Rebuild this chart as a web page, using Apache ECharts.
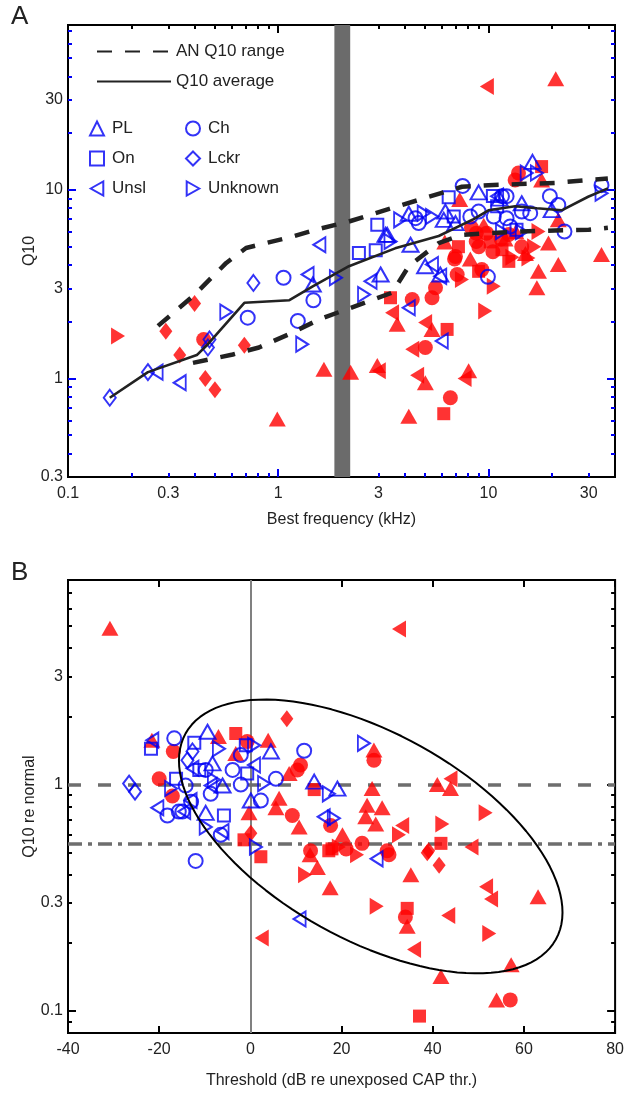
<!DOCTYPE html>
<html><head><meta charset="utf-8">
<script src="https://cdn.jsdelivr.net/npm/echarts@6/dist/echarts.min.js"></script>
<style>html,body{margin:0;padding:0;background:#fff}#c{width:627px;height:1096px}</style>
</head><body><div id="c"></div>
<script>
// ---------- Tick labels / ticks ----------
const A_X_LABELS = [0.1, 0.3, 1, 3, 10, 30];
const A_X_MAJOR = [1, 10];
const A_X_MINOR = [0.2, 0.3, 0.4, 0.5, 0.6, 0.7, 0.8, 0.9, 2, 3, 4, 5, 6, 7, 8, 9, 20, 30];
const A_Y_LABELS = [0.3, 1, 3, 10, 30];
const A_Y_MAJOR = [1, 10];
const A_Y_MINOR = [0.4, 0.5, 0.6, 0.7, 0.8, 0.9, 2, 3, 4, 5, 6, 7, 8, 9, 20, 30, 40, 50, 60, 70];
const B_X_LABELS = [-40, -20, 0, 20, 40, 60, 80];
const B_Y_LABELS = [0.1, 0.3, 1, 3];
const B_Y_MAJOR = [0.1, 1];
const B_Y_MINOR = [0.09, 0.2, 0.3, 0.4, 0.5, 0.6, 0.7, 0.8, 0.9, 2, 3, 4, 5, 6, 7];

// ---------- Panel A lines [kHz, Q10] ----------
const AN_UPPER = [[0.268,1.90],[0.393,2.73],[0.566,4.10],[0.703,4.92],[1.17,5.66],[1.51,6.15],[2.17,6.80],[3.89,8.33],[7.48,10.4],[10,10.6],[20.7,10.9],[37,11.5]];
const AN_LOWER = [[0.393,1.21],[0.608,1.34],[0.81,1.46],[1.17,1.75],[1.57,2.06],[3.48,2.85],[4.18,3.94],[5.8,5.23],[7.48,5.78],[10,5.9],[14.4,6.02],[20.7,6.1],[30,6.15],[37,6.3]];
const Q10_AVG = [[0.158,0.79],[0.24,1.08],[0.41,1.33],[0.455,1.49],[0.69,2.52],[1.13,2.60],[1.46,3.08],[2.17,3.94],[3.6,4.9],[5.8,5.7],[8.5,7.0],[10,7.8],[13.4,8.2],[17,8.0],[22.3,7.8],[29.8,9.2],[37,10.2]];
const NOISE_BAND = [1.85, 2.2];

// ---------- Panel A, unexposed (blue, open) [kHz, Q10] ----------
const A_PL = [[1.46,3.15],[3.07,3.56],[3.24,5.78],[4.26,5.12],[5.0,3.94],[5.9,3.56],[8.98,9.7],[6.24,7.68],[6.13,6.94],[4.18,7.48],[3.30,5.78],[6.97,6.67],[14.4,8.5],[20,7.82],[16.2,14.1],[11.3,9.0]];
const A_On = [[2.42,4.63],[2.91,4.78],[6.47,9.16],[6.84,7.23],[2.96,6.53],[13.6,6.15],[10.5,9.3],[11.0,8.2]];
const A_Unsl = [[0.264,1.08],[0.340,0.95],[1.38,3.56],[1.57,5.12],[2.75,3.28],[4.18,2.37],[5.39,4.02],[5.9,3.48],[11,9.27],[6.0,1.58]];
const A_Ch = [[0.716,2.10],[1.06,3.42],[1.24,2.02],[1.47,2.60],[4.5,7.08],[4.66,6.67],[7.54,10.5],[8.2,7.23],[8.98,7.68],[10.6,7.23],[11.6,9.27],[12.2,9.27],[12.2,7.08],[14.4,7.68],[15.8,7.53],[12.7,6.4],[19.6,9.27],[21.5,8.32],[23,6.02],[9.94,3.46],[34.5,10.6]];
const A_Lckr = [[0.158,0.79],[0.240,1.08],[0.471,1.61],[0.463,1.46],[0.762,3.21]];
const A_Unknown = [[0.566,2.25],[1.30,1.52],[1.88,3.42],[2.56,2.79],[3.42,5.33],[3.80,6.94],[4.92,7.53],[5.39,7.23],[11.6,6.02],[14.4,6.0],[15.2,12.3],[17,12.3],[34.5,9.6]];

// ---------- Panel A, exposed (red, filled) ----------
const A_PL_X = [[0.99,0.61],[1.65,1.12],[2.21,1.08],[2.96,1.17],[4.18,0.63],[5.01,0.95],[8.05,1.10],[5.39,1.82],[3.68,1.94],[17,3.03],[17.3,3.70],[21.5,4.02],[34.5,4.54],[8.2,4.3],[19.3,5.23],[20.9,38.9],[17.9,11.3],[7.3,8.9],[21.5,6.94],[12,5.5],[15,4.6],[9.5,6.5],[13.5,6.0],[6.2,5.3]];
const A_On_X = [[6.13,0.65],[6.36,1.82],[3.42,2.68],[8.98,3.70],[11.6,4.82],[12.5,4.18],[17.9,13.3],[7.2,5.0],[10.2,5.3]];
const A_Unsl_X = [[3.01,1.10],[4.58,1.04],[4.34,1.43],[5.0,1.98],[3.48,2.23],[9.83,35.4],[7.7,1.0]];
const A_Ch_X = [[0.442,1.61],[6.59,0.79],[5.01,1.46],[4.34,2.62],[5.39,2.68],[5.6,3.03],[6.9,4.3],[9.3,3.78],[7.1,3.56],[14.4,5.0],[13.9,12.3],[13.4,11.3],[8.75,5.9],[9.8,5.9],[8.75,5.33],[6.97,4.44],[8.3,6.3],[9.0,5.0],[10.5,4.7],[11.5,5.5],[12.5,5.8]];
const A_Lckr_X = [[0.40,2.50],[0.292,1.78],[0.34,1.33],[0.69,1.50],[0.45,1.0],[0.50,0.87]];
const A_Unknown_X = [[0.173,1.68],[9.65,2.28],[15.5,4.36],[7.48,3.35],[10.6,3.08],[17.3,6.02],[13,4.4],[16.5,5.0]];

// ---------- Panel B, unexposed (blue) [dB, Q10 re normal] ----------
const B_PL = [[-9.4,1.71],[-8.3,1.24],[0.1,0.85],[-6.1,0.99],[-9.8,0.75],[4.5,1.40],[14,1.03],[19.1,0.96]];
const B_On = [[-21.8,1.44],[-16.3,1.06],[-12.3,1.53],[-1.0,1.49],[-11.2,1.16],[-0.7,1.12],[-5.8,0.73]];
const B_Unsl = [[-21.5,1.57],[-20.4,0.79],[-14.5,0.76],[-12.7,1.18],[-13.1,0.85],[-6.1,0.62],[0.8,1.22],[16.1,0.72],[10.8,0.255],[27.7,0.47],[-8.7,0.99]];
const B_Ch = [[-16.7,1.60],[-18.2,0.73],[-15.7,0.76],[-14.9,0.76],[-9.8,1.16],[-3.9,1.16],[-2.1,1.35],[-2.1,1.0],[-14.2,0.99],[-8.7,0.91],[-13.0,0.84],[-6.5,0.60],[-12,0.46],[11.8,1.41],[5.6,1.06],[2.3,0.85]];
const B_Lckr = [[-26.6,1.01],[-25.3,0.93],[-12.7,1.40],[-13.8,1.28]];
const B_Unknown = [[-6.9,1.44],[-8.0,1.05],[-17.4,0.96],[-9.8,0.65],[1.2,0.53],[0.8,1.49],[3.0,1.01],[24.9,1.52],[17.2,0.91],[18.3,0.71]];

// ---------- Panel B, exposed (red) ----------
const B_PL_X = [[-30.8,4.9],[-21.6,1.57],[-7.0,1.63],[-3.2,1.37],[-0.3,0.75],[3.9,1.57],[8.5,1.12],[27.1,1.42],[26.7,0.96],[25.6,0.81],[28.9,0.79],[25.3,0.72],[27.5,0.67],[20.2,0.60],[6.3,0.87],[5.6,0.79],[10.7,0.65],[13.1,0.49],[14.7,0.43],[17.5,0.35],[35.2,0.40],[34.4,0.237],[41.8,0.142],[57.2,0.16],[63.1,0.32],[54,0.112],[41,1.0],[43.9,0.96]];
const B_On_X = [[-3.2,1.68],[14,0.95],[17.2,0.51],[-1.4,0.57],[2.3,0.48],[17.9,0.52],[34.4,0.284],[41.8,0.55],[37.1,0.095]];
const B_Unsl_X = [[32.6,4.86],[33.3,0.66],[2.5,0.21],[35.9,0.187],[43.4,0.264],[48.5,0.53],[51.7,0.354],[52.8,0.312],[43.9,1.06]];
const B_Ch_X = [[-16.9,1.40],[-20,1.06],[-17.1,0.89],[-0.7,1.55],[27.1,1.28],[10.3,1.16],[11,1.22],[17.6,0.66],[9.2,0.73],[13.2,0.51],[21,0.52],[24.5,0.55],[30,0.51],[30.4,0.49],[34,0.26],[57,0.112]];
const B_Lckr_X = [[8.0,1.95],[0.1,0.61],[39.1,0.51],[38.8,0.50],[41.4,0.44]];
const B_Unknown_X = [[32.6,0.60],[51.6,0.75],[42.1,0.67],[12.0,0.40],[23.4,0.49],[27.7,0.29],[52.4,0.22],[19.4,0.53]];

// Reference lines / ellipse (panel B)
const B_REF_DASHED = 1;
const B_REF_DASHDOT = 0.55;
const ELLIPSE = { cx: 26.4, cq: 0.59, ax: 40.6, bx: -11.0, au: -0.455, bu: -0.398 };

// ---------- build ----------
const L = Math.log10;
const BLUE = '#0000f5', RED = '#ff0000', INK = '#222';
const SYM = { PL: 'triangle', On: 'rect', Unsl: 'path://M0,5L9,0L9,10Z', Ch: 'circle', Lckr: 'diamond', Unknown: 'path://M9,5L0,0L0,10Z' };
const SIZE_B = { PL: [16,14], On: [12,12], Unsl: [12,15], Ch: [14,14], Lckr: [12,16], Unknown: [12,15] };
const SIZE_R = { PL: [17,15], On: [13,13], Unsl: [14,17], Ch: [15,15], Lckr: [13,17], Unknown: [14,17] };
const TYPES = ['PL','On','Unsl','Ch','Lckr','Unknown'];
const A_BLUE = { PL: A_PL, On: A_On, Unsl: A_Unsl, Ch: A_Ch, Lckr: A_Lckr, Unknown: A_Unknown };
const A_RED = { PL: A_PL_X, On: A_On_X, Unsl: A_Unsl_X, Ch: A_Ch_X, Lckr: A_Lckr_X, Unknown: A_Unknown_X };
const B_BLUE = { PL: B_PL, On: B_On, Unsl: B_Unsl, Ch: B_Ch, Lckr: B_Lckr, Unknown: B_Unknown };
const B_RED = { PL: B_PL_X, On: B_On_X, Unsl: B_Unsl_X, Ch: B_Ch_X, Lckr: B_Lckr_X, Unknown: B_Unknown_X };

const logLL = arr => arr.map(p => [L(p[0]), L(p[1])]);
const linLog = arr => arr.map(p => [p[0], L(p[1])]);
const fmtLog = v => String(+Math.pow(10, v).toPrecision(2));
const FONT = 'Liberation Sans, Arial, Helvetica, sans-serif';

function ax(o) {
  const base = { type: 'value', splitLine: { show: false }, axisLine: { show: false, onZero: false } };
  return Object.assign(base, o);
}
function tick(vals, len, color, f) {
  return { show: true, inside: true, length: len, customValues: vals.map(f || (v => v)), lineStyle: { color: color, width: 2 } };
}
const noLab = { show: false };

const AX = [L(0.1), L(40)], AY = [L(0.3), L(75)];
const BX = [-40, 80], BY = [L(0.08), L(8)];

const xAxis = [
  ax({ gridIndex: 0, position: 'bottom', min: AX[0], max: AX[1], name: 'Best frequency (kHz)', nameLocation: 'middle', nameGap: 35, nameMoveOverlap: false,
       nameTextStyle: { fontSize: 16, color: INK, fontFamily: FONT },
       axisLabel: { customValues: A_X_LABELS.map(L), formatter: fmtLog, fontSize: 16, color: INK, margin: 9, fontFamily: FONT },
       axisTick: tick(A_X_MINOR, 4, BLUE, L) }),
  ax({ gridIndex: 0, position: 'bottom', min: AX[0], max: AX[1], axisLabel: noLab, axisTick: tick(A_X_MAJOR, 8, BLUE, L) }),
  ax({ gridIndex: 0, position: 'top', min: AX[0], max: AX[1], axisLabel: noLab, axisTick: tick(A_X_MINOR, 4, '#000', L) }),
  ax({ gridIndex: 0, position: 'top', min: AX[0], max: AX[1], axisLabel: noLab, axisTick: tick(A_X_MAJOR, 8, '#000', L) }),
  ax({ gridIndex: 1, position: 'bottom', min: BX[0], max: BX[1], name: 'Threshold (dB re unexposed CAP thr.)', nameLocation: 'middle', nameGap: 40, nameMoveOverlap: false,
       nameTextStyle: { fontSize: 16, color: INK, fontFamily: FONT },
       axisLabel: { customValues: B_X_LABELS, fontSize: 16, color: INK, margin: 9, fontFamily: FONT },
       axisTick: tick(B_X_LABELS, 7, '#000') }),
  ax({ gridIndex: 1, position: 'top', min: BX[0], max: BX[1], axisLabel: noLab, axisTick: tick(B_X_LABELS, 7, '#000') })
];
const yAxis = [
  ax({ gridIndex: 0, position: 'left', min: AY[0], max: AY[1], name: 'Q10', nameLocation: 'middle', nameGap: 30, nameRotate: 90, nameMoveOverlap: false,
       nameTextStyle: { fontSize: 16, color: INK, fontFamily: FONT },
       axisLabel: { customValues: A_Y_LABELS.map(L), formatter: fmtLog, fontSize: 16, color: INK, margin: 5, fontFamily: FONT },
       axisTick: tick(A_Y_MINOR, 4, BLUE, L) }),
  ax({ gridIndex: 0, position: 'left', min: AY[0], max: AY[1], axisLabel: noLab, axisTick: tick(A_Y_MAJOR, 8, BLUE, L) }),
  ax({ gridIndex: 0, position: 'right', min: AY[0], max: AY[1], axisLabel: noLab, axisTick: tick(A_Y_MINOR, 4, BLUE, L) }),
  ax({ gridIndex: 0, position: 'right', min: AY[0], max: AY[1], axisLabel: noLab, axisTick: tick(A_Y_MAJOR, 8, BLUE, L) }),
  ax({ gridIndex: 1, position: 'left', min: BY[0], max: BY[1], name: 'Q10 re normal', nameLocation: 'middle', nameGap: 30, nameRotate: 90, nameMoveOverlap: false,
       nameTextStyle: { fontSize: 16, color: INK, fontFamily: FONT },
       axisLabel: { customValues: B_Y_LABELS.map(L), formatter: fmtLog, fontSize: 16, color: INK, margin: 5, fontFamily: FONT },
       axisTick: tick(B_Y_MINOR, 4, '#000', L) }),
  ax({ gridIndex: 1, position: 'left', min: BY[0], max: BY[1], axisLabel: noLab, axisTick: tick(B_Y_MAJOR, 8, '#000', L) }),
  ax({ gridIndex: 1, position: 'right', min: BY[0], max: BY[1], axisLabel: noLab, axisTick: tick(B_Y_MINOR, 4, '#000', L) }),
  ax({ gridIndex: 1, position: 'right', min: BY[0], max: BY[1], axisLabel: noLab, axisTick: tick(B_Y_MAJOR, 8, '#000', L) })
];

const series = [];
// noise band (panel A)
series.push({ type: 'line', xAxisIndex: 0, yAxisIndex: 0, data: [], silent: true,
  markArea: { silent: true, z: 1, itemStyle: { color: '#6b6b6b', opacity: 1 },
    data: [[{ xAxis: L(NOISE_BAND[0]) }, { xAxis: L(NOISE_BAND[1]) }]] } });

function scatter(name, arr, type, panel, open) {
  return { type: 'scatter', name: name, xAxisIndex: panel === 'A' ? 0 : 4, yAxisIndex: panel === 'A' ? 0 : 4,
    data: panel === 'A' ? logLL(arr) : linLog(arr), symbol: SYM[type],
    symbolSize: open ? SIZE_B[type] : SIZE_R[type],
    itemStyle: open ? { color: 'rgba(255,255,255,0)', borderColor: BLUE, borderWidth: 2 } : { color: RED, borderWidth: 0 } };
}
// red (exposed) first
TYPES.forEach(t => series.push(scatter(t + ' exposed', A_RED[t], t, 'A', false)));
TYPES.forEach(t => series.push(scatter(t + ' exposed', B_RED[t], t, 'B', false)));

// panel A lines
series.push({ type: 'line', name: 'AN Q10 range', xAxisIndex: 0, yAxisIndex: 0, data: logLL(AN_UPPER), symbol: 'none', showSymbol: false,
  lineStyle: { color: INK, width: 4.5, type: [15, 13] }, itemStyle: { color: INK } });
series.push({ type: 'line', name: 'AN Q10 range', xAxisIndex: 0, yAxisIndex: 0, data: logLL(AN_LOWER), symbol: 'none', showSymbol: false,
  lineStyle: { color: INK, width: 4.5, type: [15, 13] }, itemStyle: { color: INK } });
series.push({ type: 'line', name: 'Q10 average', xAxisIndex: 0, yAxisIndex: 0, data: logLL(Q10_AVG), symbol: 'none', showSymbol: false,
  lineStyle: { color: INK, width: 2.6 }, itemStyle: { color: INK } });

// panel B reference lines + ellipse
const ell = [];
for (let i = 0; i <= 120; i++) {
  const t = i / 120 * 2 * Math.PI;
  ell.push([ELLIPSE.cx + ELLIPSE.ax * Math.cos(t) + ELLIPSE.bx * Math.sin(t),
            L(ELLIPSE.cq) + ELLIPSE.au * Math.cos(t) + ELLIPSE.bu * Math.sin(t)]);
}
series.push({ type: 'line', name: 'refs', xAxisIndex: 4, yAxisIndex: 4, data: [], silent: true,
  markLine: { silent: true, z: 1, symbol: 'none', label: { show: false }, animation: false,
    data: [
      { xAxis: 0, lineStyle: { color: '#808080', width: 2, type: 'solid' } },
      { yAxis: L(B_REF_DASHED), lineStyle: { color: '#6e6e6e', width: 3.5, type: [13, 17] } },
      { yAxis: L(B_REF_DASHDOT), lineStyle: { color: '#6e6e6e', width: 3.5, type: [14, 6, 4, 6] } }
    ] } });

// blue (unexposed) on top
TYPES.forEach(t => series.push(scatter(t, A_BLUE[t], t, 'A', true)));
TYPES.forEach(t => series.push(scatter(t, B_BLUE[t], t, 'B', true)));

series.push({ type: 'line', name: 'ellipse', xAxisIndex: 4, yAxisIndex: 4, data: ell, symbol: 'none', showSymbol: false, smooth: false,
  lineStyle: { color: '#000', width: 2 } });

const legendText = { fontSize: 17, color: INK, fontFamily: FONT };
const option = {
  animation: false,
  textStyle: { fontFamily: FONT },
  grid: [
    { left: 68, top: 25, width: 547, height: 452, show: true, borderColor: '#000', borderWidth: 2, backgroundColor: 'transparent' },
    { left: 68, top: 580, width: 548, height: 453, show: true, borderColor: '#000', borderWidth: 2, backgroundColor: 'transparent' }
  ],
  legend: [
    { data: ['AN Q10 range', 'Q10 average'], orient: 'vertical', left: 96, top: 43, padding: 0, itemWidth: 74, itemHeight: 14, itemGap: 13,
      selectedMode: false, textStyle: legendText, itemStyle: { opacity: 0 } },
    { data: ['PL', 'On', 'Unsl'], orient: 'vertical', left: 89, top: 120, padding: 0, itemWidth: 14, itemHeight: 14, itemGap: 13,
      selectedMode: false, textStyle: Object.assign({ padding: [0, 0, 0, 3] }, legendText) },
    { data: ['Ch', 'Lckr', 'Unknown'], orient: 'vertical', left: 185, top: 120, padding: 0, itemWidth: 14, itemHeight: 14, itemGap: 13,
      selectedMode: false, textStyle: Object.assign({ padding: [0, 0, 0, 3] }, legendText) }
  ],
  graphic: [
    { type: 'text', left: 11, top: 4, style: { text: 'A', fontSize: 26, fill: INK, fontFamily: FONT } },
    { type: 'text', left: 11, top: 560, style: { text: 'B', fontSize: 26, fill: INK, fontFamily: FONT } }
  ],
  xAxis: xAxis,
  yAxis: yAxis,
  series: series
};
const chart = echarts.init(document.getElementById('c'), null, { renderer: 'canvas' });
chart.setOption(option);
</script></body></html>
